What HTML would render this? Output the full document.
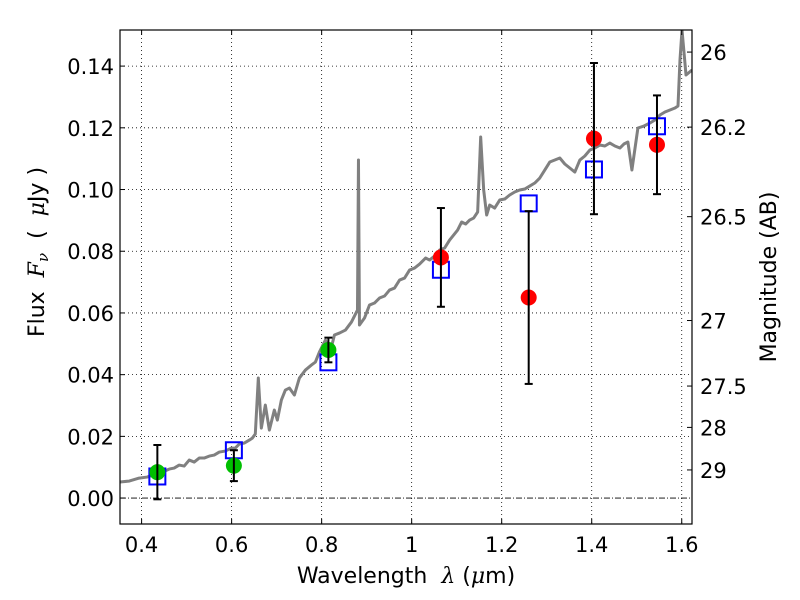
<!DOCTYPE html>
<html><head><meta charset="utf-8"><style>
body{margin:0;background:#fff;}
svg{display:block;font-family:"DejaVu Sans","Liberation Sans",sans-serif;}
</style></head><body>
<svg id="chart" width="800" height="600"></svg>
<script>
const specPx = [[120,482],[130,481],[140,478],[148,477],[156,474],[163,472],[170,469],[175,468],[180,465],[185,466],[190,460],[195,462],[200,458],[205,458],[210,456],[215,455],[220,452],[226,451],[232,448],[236,448],[240,444],[245,443],[250,440],[253,438],[256,434],[259,378],[262,428],[266,405],[270,430],[275,410],[278,420],[282,400],[286,390],[290,388],[295,395],[300,378],[306,370],[312,365],[316,362],[320,352],[326,340],[330,355],[335,335],[340,333],[346,330],[352,322],[358,310],[359,160],[360,325],[365,318],[370,305],[375,303],[380,298],[385,296],[390,290],[395,288],[400,280],[405,278],[410,270],[415,268],[420,264],[426,258],[430,260],[435,256],[440,250],[445,248],[450,240],[458,230],[462,222],[466,224],[470,220],[474,218],[478,212],[481,137],[484,190],[487,215],[490,205],[495,208],[500,200],[505,199],[510,195],[515,192],[520,190],[525,189],[530,186],[535,183],[540,178],[545,170],[550,162],[555,160],[560,158],[565,164],[570,168],[575,172],[580,160],[585,156],[590,150],[595,148],[600,145],[605,146],[610,143],[615,146],[620,148],[624,144],[628,142],[632,170],[638,128],[644,126],[650,123],[655,120],[660,115],[665,112],[670,110],[675,108],[678,106],[680,60],[682,30],[686,75],[692,70]];
const specWave = specPx.map(p=>+(0.35+(p[0]-120)/449.4).toFixed(4));
const specFlux = specPx.map(p=>+((498-p[1])/3085).toFixed(5));
const greenWave = [0.435,0.605,0.815];
const greenFlux = [0.0084,0.0105,0.048];
const greenErr = [0.0088,0.005,0.004];
const redWave = [1.065,1.26,1.405,1.545];
const redFlux = [0.078,0.065,0.1165,0.1145];
const redErr = [0.016,0.028,0.0245,0.016];
const modelWave = [0.435,0.605,0.815,1.065,1.26,1.405,1.545];
const modelFlux = [0.007,0.0155,0.044,0.074,0.0955,0.1065,0.1205];
const xTicks = [0.4,0.6,0.8,1.0,1.2,1.4,1.6];
const xTickLabels = ["0.4","0.6","0.8","1","1.2","1.4","1.6"];
const yTicks = [0,0.02,0.04,0.06,0.08,0.10,0.12,0.14];
const yTickLabels = ["0.00","0.02","0.04","0.06","0.08","0.10","0.12","0.14"];
const magTicks = [26,26.2,26.5,27,27.5,28,29];
const magLabels = ["26","26.2","26.5","27","27.5","28","29"];

const L=120,R=692,T=30,B=524, X0=0.352,X1=1.6228, Y0=-0.0084,Y1=0.1517;
const sx=v=>L+(v-X0)/(X1-X0)*(R-L);
const sy=v=>B-(v-Y0)/(Y1-Y0)*(B-T);
const svg=document.getElementById('chart');
const NS='http://www.w3.org/2000/svg';
function mk(tag,attrs,parent){const e=document.createElementNS(NS,tag);for(const k in attrs)e.setAttribute(k,attrs[k]);(parent||svg).appendChild(e);return e;}

const defs=mk('defs',{});
const cp=mk('clipPath',{id:'clip'},defs);mk('rect',{x:L,y:T,width:R-L,height:B-T},cp);
const grid=mk('g',{stroke:'#000','stroke-width':0.8,'stroke-dasharray':'1,3'});


xTicks.forEach(v=>mk('line',{x1:sx(v),x2:sx(v),y1:T,y2:B},grid));
yTicks.forEach(v=>{if(v!==0)mk('line',{x1:L,x2:R,y1:sy(v),y2:sy(v)},grid);});
const zl=mk('line',{x1:L,x2:R,y1:sy(0),y2:sy(0),stroke:'#000','stroke-width':0.8,'stroke-dasharray':'6,2,1,2'});



const plot=mk('g',{'clip-path':'url(#clip)'});
const sp=mk('polyline',{points:specWave.map((w,i)=>sx(w)+','+sy(specFlux[i])).join(' '),fill:'none',stroke:'#808080','stroke-width':3,'stroke-linejoin':'round'},plot);



function errbar(w,f,e){const g=mk('g',{stroke:'#000','stroke-width':2},plot);
 mk('line',{x1:sx(w),x2:sx(w),y1:sy(f-e),y2:sy(f+e)},g);
 mk('line',{x1:sx(w)-4,x2:sx(w)+4,y1:sy(f-e),y2:sy(f-e)},g);
 mk('line',{x1:sx(w)-4,x2:sx(w)+4,y1:sy(f+e),y2:sy(f+e)},g);
 
 }
modelWave.forEach((w,i)=>{const r=mk('rect',{x:sx(w)-8,y:sy(modelFlux[i])-8,width:16,height:16,fill:'none',stroke:'#0000ff','stroke-width':2},plot);
 
 });
greenWave.forEach((w,i)=>{const c=mk('circle',{cx:sx(w),cy:sy(greenFlux[i]),r:8,fill:'#00bf00'},plot);
 
 });
redWave.forEach((w,i)=>{const c=mk('circle',{cx:sx(w),cy:sy(redFlux[i]),r:8,fill:'#ff0000'},plot);
 
 });
redWave.forEach((w,i)=>errbar(w,redFlux[i],redErr[i]));
greenWave.forEach((w,i)=>errbar(w,greenFlux[i],greenErr[i]));

const frame=mk('rect',{x:L,y:T,width:R-L,height:B-T,fill:'none',stroke:'#000','stroke-width':1.2});



const ax=mk('g',{'font-size':21,fill:'#000'});
xTicks.forEach((v,i)=>{mk('line',{x1:sx(v),x2:sx(v),y1:B,y2:B-5,stroke:'#000'},ax);mk('line',{x1:sx(v),x2:sx(v),y1:T,y2:T+5,stroke:'#000'},ax);
 const t=mk('text',{x:sx(v),y:B+28,'text-anchor':'middle'},ax);t.textContent=xTickLabels[i];
 
 });
yTicks.forEach((v,i)=>{mk('line',{x1:L,x2:L+5,y1:sy(v),y2:sy(v),stroke:'#000'},ax);
 const t=mk('text',{x:L-6,y:sy(v)+8,'text-anchor':'end'},ax);t.textContent=yTickLabels[i];
 
 });
magTicks.forEach((m,i)=>{const f=Math.pow(10,(23.9-m)/2.5);const y=sy(f);
 mk('line',{x1:R,x2:R-5,y1:y,y2:y,stroke:'#000'},ax);
 const t=mk('text',{x:R+8,y:y+8,'text-anchor':'start'},ax);t.textContent=magLabels[i];
 
 });
</script>
<svg width="800" height="600" style="position:absolute;left:0;top:0">
<text x="406" y="583" text-anchor="middle" font-size="22" font-family="DejaVu Sans, Liberation Sans, sans-serif" xml:space="preserve">Wavelength  <tspan font-style="italic" font-family="DejaVu Serif, serif">λ</tspan> (<tspan font-style="italic" font-family="DejaVu Serif, serif">μ</tspan>m)</text>
<text transform="translate(44,252) rotate(-90)" text-anchor="middle" font-size="22" font-family="DejaVu Sans, Liberation Sans, sans-serif" xml:space="preserve">Flux  <tspan font-style="italic" font-family="DejaVu Serif, serif">F</tspan><tspan font-style="italic" font-size="15" dy="4" font-family="DejaVu Serif, serif">ν</tspan><tspan dy="-4">  (  </tspan><tspan font-style="italic" font-family="DejaVu Serif, serif">μ</tspan>Jy )</text>
<text transform="translate(776,277) rotate(-90)" text-anchor="middle" font-size="22" font-family="DejaVu Sans, Liberation Sans, sans-serif">Magnitude (AB)</text>
</svg>
</body></html>
